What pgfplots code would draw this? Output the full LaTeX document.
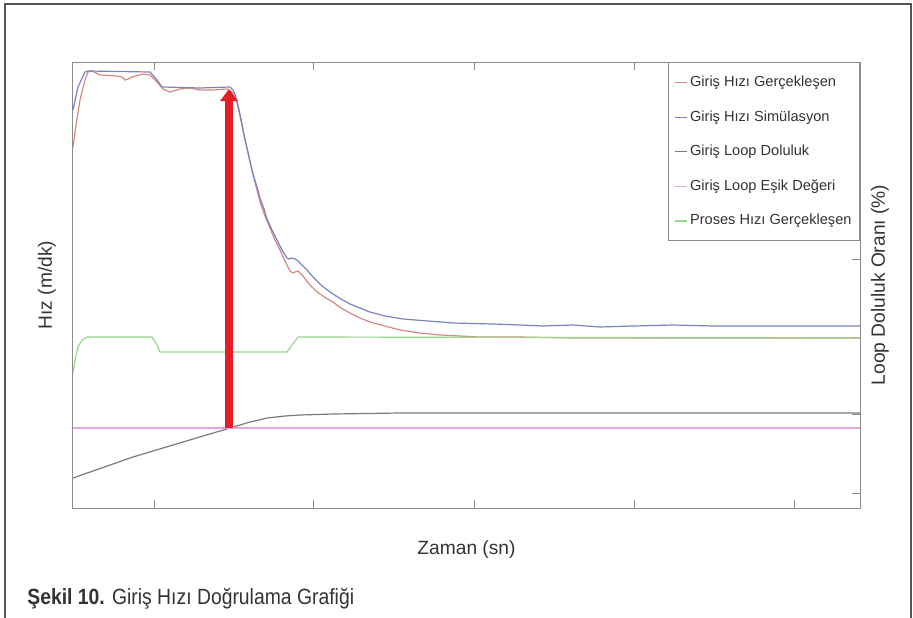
\documentclass[border=0pt]{standalone}
\usepackage{fontspec}
\setmainfont{Liberation Sans}
\usepackage{graphicx}
\usepackage{pgfplots}
\pgfplotsset{compat=1.18}
\usetikzlibrary{arrows.meta}
\definecolor{simblue}{HTML}{7A82C0}
\definecolor{realred}{HTML}{D98880}
\definecolor{procgreen}{HTML}{9AD68E}
\definecolor{loopgray}{HTML}{7A7A7A}
\definecolor{esikpink}{HTML}{E6A6E0}
\definecolor{arrowred}{HTML}{E41E26}
\definecolor{axisgray}{HTML}{8C8C8C}
\definecolor{framegray}{HTML}{555555}
\definecolor{txt}{HTML}{333333}
\begin{document}
\begin{tikzpicture}
\path[use as bounding box] (-36.5pt,-54.5pt) rectangle (420pt,254pt);
\draw[line width=0.9pt, framegray] (-34pt,-70pt) -- (-34pt,252pt) -- (419pt,252pt) -- (419pt,-70pt);
\node[anchor=base west, inner sep=0pt, text=txt] at (-23pt,-48pt) {\scalebox{0.88}[1]{\fontsize{11}{13}\selectfont\textbf{Şekil 10.} Giriş Hızı Doğrulama Grafiği}};
\begin{axis}[
  at={(0pt,0pt)}, anchor=south west,
  scale only axis, width=393.5pt, height=223pt,
  xmin=0, xmax=787, ymin=0, ymax=446,
  axis line style={axisgray, line width=0.5pt},
  xtick={81,240,401,561,721}, xticklabels={},
  ytick={15,94,171,249,327,405}, yticklabels={},
  xtick pos=both, ytick pos=right,
  tick align=inside,
  major tick length=3.8pt,
  every tick/.style={axisgray, line width=0.5pt},
  label style={font=\fontsize{9.6}{11}\selectfont, text=txt},
  xlabel={Zaman (sn)},
  xlabel style={at={(axis description cs:0.5,-0.092)}, anchor=center},
  ylabel={Hız (m/dk)},
  ylabel style={at={(axis description cs:-0.033,0.5)}, anchor=center},
  extra description/.code={\node[rotate=90, font=\fontsize{9.6}{11}\selectfont, text=txt] at (1.0254,0.5) {Loop Doluluk Oranı (\%)};},
  legend cell align=left,
  legend image code/.code={\draw[#1] (0pt,0pt) -- (6pt,0pt);},
  legend style={at={(1,1)}, anchor=north east, draw=axisgray, line width=0.5pt,
    font=\fontsize{7.3}{8.5}\selectfont, text=txt,
    nodes={inner sep=1pt, text height=5.5pt, text depth=1.5pt},
    row sep=8.3pt, inner xsep=3pt, inner ysep=5.5pt, column sep=0pt},
  every axis plot/.append style={line width=0.6pt},
]
% Giris Hizi Gerceklesen
\addplot[realred] coordinates {
(0,361) (3,383) (7,408) (12,428) (15,436) (19,437) (27,433) (44,432) (49,431) (52,428) (55,429) (59,431) (70,434) (77,433)
(84,426) (90,419) (97,416) (107,419) (117,420) (127,418) (140,418) (154,419) (160,415) (164,405) (167,392) (170,378) (174,360)
(177,346) (180,333) (184,318) (187,306) (192,292) (197,280) (202,268) (207,258) (212,247) (217,237) (220,235) (222,236) (225,237)
(229,233) (233,228) (237,223) (242,218) (247,214) (253,210) (260,206) (268,200) (277,195) (287,190) (297,186) (312,182) (327,178)
(347,175) (367,173) (387,172) (407,171) (447,171) (500,170) (560,170) (650,170) (787,170)};
\addlegendentry{Giriş Hızı Gerçekleşen}
% Giris Hizi Simulasyon
\addplot[simblue] coordinates {
(0,398) (5,421) (12,436) (15,437) (77,436) (84,428) (89,421) (127,420) (157,421) (160,418) (162,414) (165,403) (169,384) (171,372)
(174,360) (177,347) (180,334) (184,321) (187,310) (191,299) (194,289) (199,278) (204,268) (209,258) (214,250) (216,249) (219,250)
(222,249) (225,247) (229,243) (234,238) (240,231) (247,224) (253,219) (260,214) (268,209) (277,204) (287,200) (297,196) (312,192)
(330,189) (355,187) (380,185) (420,184) (447,183) (470,182) (500,183) (527,181) (560,182) (600,183) (640,182) (700,182) (787,182)};
\addlegendentry{Giriş Hızı Simülasyon}
% Giris Loop Doluluk
\addplot[loopgray] coordinates {
(0,30) (60,51) (110,66) (157,80) (167,83) (177,86) (186,88) (194,90) (203,91) (212,92) (227,93) (260,94) (327,95) (787,95)};
\addlegendentry{Giriş Loop Doluluk}
% Giris Loop Esik Degeri
\addplot[esikpink] coordinates {(0,80) (787,80)};
\addlegendentry{Giriş Loop Eşik Değeri}
% Proses Hizi Gerceklesen
\addplot[procgreen] coordinates {
(0,135) (2,148) (5,161) (9,168) (14,171) (79,171) (84,163) (87,156) (214,156) (219,163) (225,171) (787,170)};
\addlegendentry{Proses Hızı Gerçekleşen}
% arrow annotation
\addplot[arrowred, line width=4pt, -{Triangle[width=8.5pt,length=6pt]}, forget plot] coordinates {(156,80) (156,419)};
\end{axis}
\end{tikzpicture}
\end{document}
